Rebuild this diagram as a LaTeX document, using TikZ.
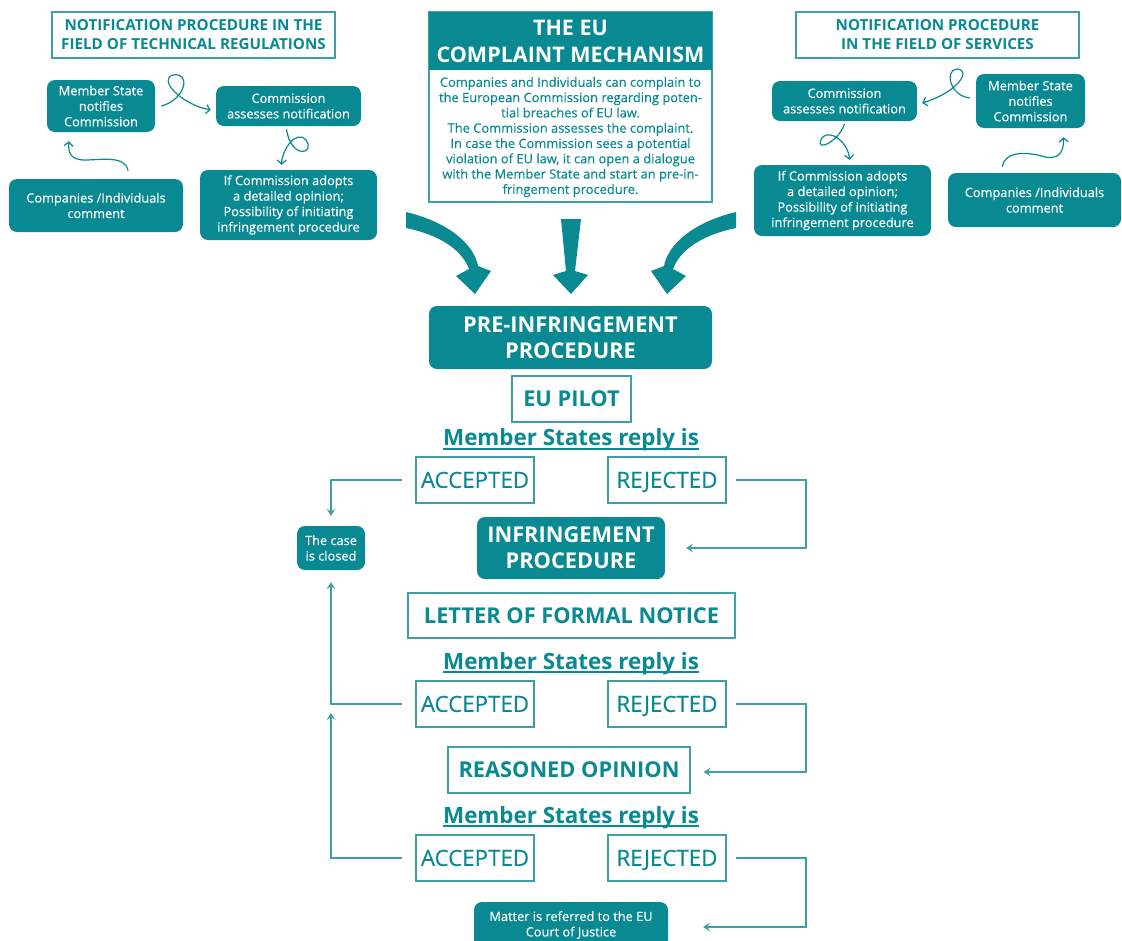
\documentclass[tikz,border=0pt]{standalone}
\usepackage{fontspec}
\setmainfont{Open Sans}
\newfontfamily\semi{Open Sans}[FakeBold=0.35]
\usetikzlibrary{arrows.meta}
\definecolor{teal1}{RGB}{9,137,146}
\definecolor{teal2}{RGB}{62,160,167}
\begin{document}
\begin{tikzpicture}[x=1pt,y=-1pt,
 fillbox/.style={fill=teal1, text=white, rounded corners=8pt, align=center, inner sep=0pt},
 outbox/.style={draw=teal2, line width=1.3pt, text=teal1, align=center, inner sep=0pt},
 conn/.style={draw=teal2, line width=1.3pt, -{Stealth[length=7pt,width=9pt,inset=3pt]}},
 curly/.style={draw=teal1, line width=1.2pt, -{Straight Barb[length=4pt,width=9pt]}},
 small/.style={font=\semi\fontsize{12.8}{15.5}\selectfont},
 tiny/.style={font=\semi\fontsize{12.8}{15.5}\selectfont},
 ttl/.style={font=\fontsize{15.2}{19}\selectfont\bfseries},
 big/.style={font=\fontsize{21.8}{26}\selectfont\bfseries},
 choice/.style={outbox, minimum width=118, minimum height=46, text height=15.8pt, text depth=0pt, font=\semi\fontsize{22.3}{26}\selectfont},
 reply/.style={text=teal1, inner sep=0pt, anchor=base, font=\fontsize{22.4}{26}\selectfont\bfseries},
 uline/.style={draw=teal1, line width=2pt}
]
\useasboundingbox (0,0) rectangle (1122,940);

% ---------- top left ----------
\node[outbox, ttl, minimum width=283, minimum height=46] (tl) at (193.5,35) {NOTIFICATION PROCEDURE IN THE\\FIELD OF TECHNICAL REGULATIONS};
\node[fillbox, small, minimum width=108, minimum height=52] (msL) at (101,106) {Member State\\notifies\\Commission};
\node[fillbox, small, minimum width=145, minimum height=40] (caL) at (288.5,106) {Commission\\assesses notification};
\node[fillbox, small, minimum width=177, minimum height=70] (ifL) at (288.5,205) {If Commission adopts\\a detailed opinion;\\Possibility of initiating\\infringement procedure};
\node[fillbox, small, minimum width=174, minimum height=53] (coL) at (96,205.5) {Companies /Individuals\\comment};

\draw[curly] ([xshift=6]msL.east) .. controls (185,100) and (192,72) .. (173,75) .. controls (158,79) and (180,104) .. ([xshift=-5,yshift=-4]caL.west);
\draw[curly] ([xshift=32,yshift=8]coL.north) .. controls (126,155) and (100,160) .. (85,160) .. controls (70,160) and (68,152) .. ([xshift=-32,yshift=-9]msL.south);
\draw[curly] ([xshift=-2,yshift=-3]caL.south) .. controls (291,160) and (316,154) .. (306,140) .. controls (296,129) and (282,150) .. ([xshift=-7,yshift=5]ifL.north);

% ---------- top right ----------
\node[outbox, ttl, minimum width=283, minimum height=46] (tr) at (937.5,35) {NOTIFICATION PROCEDURE\\IN THE FIELD OF SERVICES};
\node[fillbox, small, minimum width=145, minimum height=40] (caR) at (844.5,101) {Commission\\assesses notification};
\node[fillbox, small, minimum width=109, minimum height=54] (msR) at (1030.5,101) {Member State\\notifies\\Commission};
\node[fillbox, small, minimum width=177, minimum height=71] (ifR) at (842.5,200.5) {If Commission adopts\\a detailed opinion;\\Possibility of initiating\\infringement procedure};
\node[fillbox, small, minimum width=173, minimum height=54] (coR) at (1034.5,200) {Companies /Individuals\\comment};

\draw[curly] ([xshift=-6,yshift=3]msR.west) .. controls (950,96) and (944,70) .. (957,69) .. controls (972,70) and (958,92) .. ([xshift=5,yshift=-2]caR.east);
\draw[curly] ([xshift=-32,yshift=6]coR.north) .. controls (1004,150) and (1030,152) .. (1045,157) .. controls (1060,160) and (1064,150) .. ([xshift=33,yshift=-9]msR.south);
\draw[curly] ([xshift=0,yshift=-3]caR.south) .. controls (838,142) and (816,152) .. (821,140) .. controls (826,127) and (848,140) .. ([xshift=7,yshift=5]ifR.north);

% ---------- centre ----------
\node[outbox, minimum width=283, minimum height=190] (cbox) at (570.5,107) {};
\node[fill=teal1, text=white, align=center, inner sep=0pt, minimum width=283, minimum height=58, font=\fontsize{21.5}{27}\selectfont\bfseries] (chead) at (570.5,41) {THE EU\\COMPLAINT MECHANISM};
\node[text=teal1, align=center, inner sep=0pt, font=\semi\fontsize{12.9}{15.3}\selectfont] (cbody) at (570.5,137) {Companies and Individuals can complain to\\the European Commission regarding poten-\\tial breaches of EU law.\\The Commission assesses the complaint.\\In case the Commission sees a potential\\violation of EU law, it can open a dialogue\\with the Member State and start an pre-in-\\fringement procedure.};

% big arrows
\fill[teal1] (406,212) .. controls (448,222) and (474,244) .. (478,266) -- (491,271) -- (475,294) -- (456,276) -- (469,269) .. controls (462,250) and (440,235) .. (406,228) -- cycle;
\fill[teal1] (561,219) -- (581,219) -- (575,271) -- (588,275) -- (571,294) -- (553,275) -- (566,271) -- cycle;
\fill[teal1] (736,212) .. controls (694,222) and (668,244) .. (664,266) -- (651,271) -- (667,294) -- (686,276) -- (673,269) .. controls (680,250) and (702,235) .. (736,228) -- cycle;

% ---------- procedure ----------
\node[fillbox, big, minimum width=283, minimum height=63] (pre) at (570.5,337.5) {PRE-INFRINGEMENT\\PROCEDURE};
\node[outbox, big, minimum width=119, minimum height=46] (pilot) at (571.5,399) {EU PILOT};
\node[reply] (r1) at (571,445.5) {Member States reply is};
\draw[uline] ([yshift=-3]r1.base west) -- ([yshift=-3]r1.base east);
\node[choice] (acc1) at (475,480) {ACCEPTED};
\node[choice] (rej1) at (667,480) {REJECTED};
\node[fillbox, tiny, minimum width=68, minimum height=44] (closed) at (331,548) {The case\\is closed};
\node[fillbox, big, minimum width=188, minimum height=62] (infr) at (571,548) {INFRINGEMENT\\PROCEDURE};

\node[outbox, big, minimum width=327, minimum height=45] (letter) at (571.5,615.5) {LETTER OF FORMAL NOTICE};
\node[reply] (r2) at (571,669) {Member States reply is};
\draw[uline] ([yshift=-3]r2.base west) -- ([yshift=-3]r2.base east);
\node[choice] (acc2) at (475,704) {ACCEPTED};
\node[choice] (rej2) at (667,704) {REJECTED};

\node[outbox, big, minimum width=242, minimum height=46] (reas) at (569,770) {REASONED OPINION};
\node[reply] (r3) at (571,823) {Member States reply is};
\draw[uline] ([yshift=-3]r3.base west) -- ([yshift=-3]r3.base east);
\node[choice] (acc3) at (475,858) {ACCEPTED};
\node[choice] (rej3) at (667,858) {REJECTED};
\node[fillbox, tiny, minimum width=194, minimum height=46] (court) at (571,925) {Matter is referred to the EU\\Court of Justice};

% connectors
\draw[conn] ([xshift=-13]acc1.west) -| ([yshift=10]closed.north);
\draw[conn] ([xshift=-13]acc2.west) -| ([yshift=-12]closed.south);
\coordinate (j2) at (331,713);
\draw[conn] ([xshift=-13]acc3.west) -| (j2);
\draw[conn] ([xshift=9]rej1.east) -- (806,480) |- ([xshift=21]infr.east);
\draw[conn] ([xshift=9]rej2.east) -- (806,704) |- ([xshift=13,yshift=-2]reas.east);
\draw[conn] ([xshift=9]rej3.east) -- (806,858) |- ([xshift=35,yshift=-2]court.east);
\end{tikzpicture}
\end{document}
